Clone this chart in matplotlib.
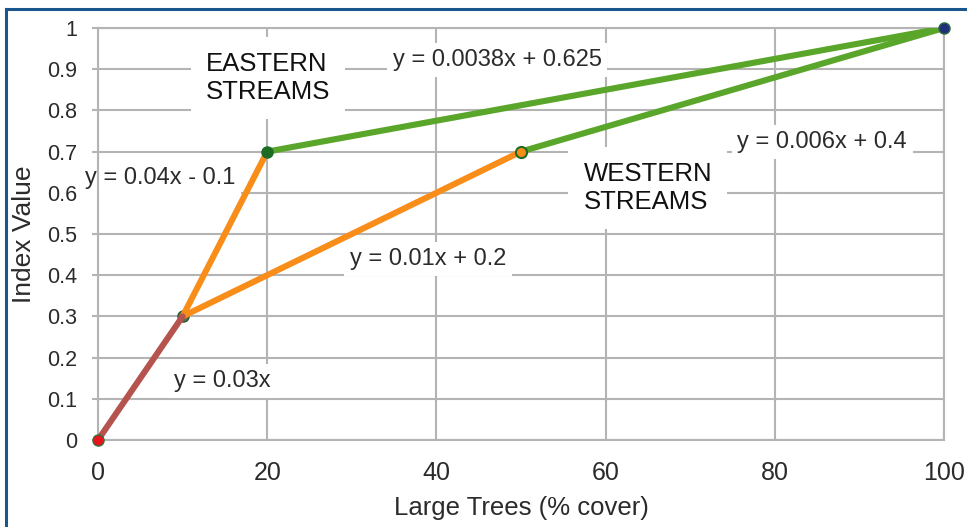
import matplotlib
matplotlib.use("Agg")
import matplotlib.pyplot as plt
from matplotlib.lines import Line2D

# -----------------------------
# DATA
# -----------------------------
seg_start_x = [0, 10]
seg_start_y = [0.0, 0.3]

east_orange_x = [10, 20]
east_orange_y = [0.3, 0.7]
west_orange_x = [10, 50]
west_orange_y = [0.3, 0.7]

east_green_x = [20, 100]
east_green_y = [0.7, 1.0]
west_green_x = [50, 100]
west_green_y = [0.7, 1.0]

x_ticks = [0, 20, 40, 60, 80, 100]
y_ticks = [0, 0.1, 0.2, 0.3, 0.4, 0.5, 0.6, 0.7, 0.8, 0.9, 1.0]
y_tick_labels = ["0", "0.1", "0.2", "0.3", "0.4", "0.5", "0.6", "0.7", "0.8", "0.9", "1"]

# equation labels: (x, y, text)
equations = [
    (47.2, 0.922, "y = 0.0038x + 0.625"),
    (85.6, 0.723, "y = 0.006x + 0.4"),
    (39.0, 0.439, "y = 0.01x + 0.2"),
    (7.3, 0.636, "y = 0.04x - 0.1"),
    (14.7, 0.143, "y = 0.03x"),
]
regions = [
    (20.1, 0.879, "EASTERN\nSTREAMS"),
    (65.0, 0.612, "WESTERN\nSTREAMS"),
]

# -----------------------------
# STYLE
# -----------------------------
GRID = "#b4b4b4"
BROWN = "#b5534f"
ORANGE = "#f98d1a"
GREEN = "#5aa62a"
TEXT = "#2b2b2b"
FRAME = "#18568c"
LW = 4.4

plt.rcParams["font.family"] = ["Liberation Sans", "DejaVu Sans"]

fig = plt.figure(figsize=(9.67, 5.27), dpi=100)
ax = fig.add_axes([98 / 967, 87 / 527, (944 - 98) / 967, (440 - 28) / 527])

ax.set_xlim(0, 100)
ax.set_ylim(0, 1)
ax.set_xticks(x_ticks)
ax.set_yticks(y_ticks)
ax.set_yticklabels(y_tick_labels)

ax.grid(True, color=GRID, linewidth=1.5, zorder=0)
ax.set_axisbelow(True)
for s in ax.spines.values():
    s.set_color(GRID)
    s.set_linewidth(1.5)

ax.tick_params(axis="y", length=4, width=1.5, color=GRID, pad=11,
               labelsize=15.5, labelcolor=TEXT)
ax.tick_params(axis="x", length=0, pad=15, labelsize=18, labelcolor=TEXT)

ax.set_xlabel("Large Trees (% cover)", fontsize=18.5, color=TEXT, labelpad=8)
ax.set_ylabel("Index Value", fontsize=19, color=TEXT, labelpad=8)

# text boxes sit above the grid, below the lines
for x, y, t in regions:
    ax.text(x, y, t, ha="center", va="center", fontsize=18.5, color="#111111",
            linespacing=1.2, multialignment="left", zorder=2,
            bbox=dict(facecolor="white", edgecolor="none", pad=11))
for x, y, t in equations:
    ax.text(x, y, t, ha="center", va="center", fontsize=17, color=TEXT, zorder=2,
            bbox=dict(facecolor="white", edgecolor="none", pad=4))

# lines
ax.plot(east_green_x, east_green_y, color=GREEN, lw=LW, solid_capstyle="round", zorder=3)
ax.plot(west_green_x, west_green_y, color=GREEN, lw=LW, solid_capstyle="round", zorder=3)
ax.plot(east_orange_x, east_orange_y, color=ORANGE, lw=LW, solid_capstyle="round", zorder=4)
ax.plot(west_orange_x, west_orange_y, color=ORANGE, lw=LW, solid_capstyle="round", zorder=4)
ax.plot(seg_start_x, seg_start_y, color=BROWN, lw=LW, solid_capstyle="round", zorder=4)

# point markers
ax.plot(seg_start_x[:1], seg_start_y[:1], "o", ms=8, mfc="#e5141b", mec="#3c6b3c",
        mew=1, zorder=5, clip_on=False)
ax.plot(seg_start_x[1:], seg_start_y[1:], "o", ms=8, mfc="#55704f", mec="#2f5a35",
        mew=1, zorder=3.5, clip_on=False)
ax.plot(east_green_x[:1], east_green_y[:1], "o", ms=8, mfc="#1e6b24", mec="#1e6b24",
        zorder=5, clip_on=False)
ax.plot(west_green_x[:1], west_green_y[:1], "o", ms=8, mfc=ORANGE, mec="#1e6b24",
        mew=1.5, zorder=5, clip_on=False)
ax.plot(east_green_x[1:], east_green_y[1:], "o", ms=8, mfc="#1f2f7a", mec="#2f6b3a",
        mew=1, zorder=5, clip_on=False)

# blue frame (top and left edges visible)
fig.add_artist(Line2D([6 / 967, 1.0], [1 - 9 / 527, 1 - 9 / 527],
                      color=FRAME, lw=2.2, transform=fig.transFigure))
fig.add_artist(Line2D([6 / 967, 6 / 967], [0.0, 1 - 9 / 527],
                      color=FRAME, lw=2.2, transform=fig.transFigure))

fig.savefig("out.png", dpi=100, facecolor="white")
